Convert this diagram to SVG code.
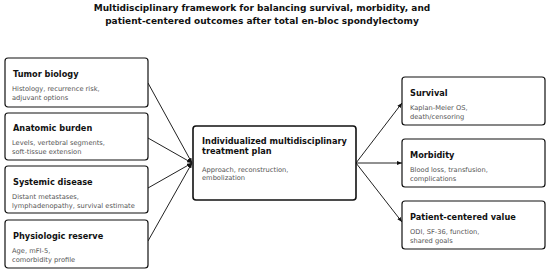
<svg xmlns="http://www.w3.org/2000/svg" width="550" height="273" viewBox="0 0 550 273">
<defs>
<marker id="ah" viewBox="0 0 10 10" refX="10" refY="5" markerWidth="5" markerHeight="5" orient="auto" markerUnits="userSpaceOnUse">
<path d="M0,1 L10,5 L0,9 z" fill="#111"/>
</marker>
<style>
.box{fill:#fff;stroke:#111;stroke-width:1.2}
.main{stroke-width:1.6}
.t{font-family:"DejaVu Sans",sans-serif;font-weight:bold;font-size:8.2px;fill:#111}
.s{font-family:"DejaVu Sans",sans-serif;font-size:6.7px;fill:#555}
.h{font-family:"DejaVu Sans",sans-serif;font-weight:bold;font-size:9px;fill:#111;text-anchor:middle}
.c{stroke:#222;stroke-width:1;fill:none;marker-end:url(#ah)}
</style>
</defs>
<rect width="550" height="273" fill="#fff"/>
<g id="title">
<text class="h" x="262" y="11">Multidisciplinary framework for balancing survival, morbidity, and</text>
<text class="h" x="262" y="24">patient-centered outcomes after total en-bloc spondylectomy</text>
</g>
<g id="connectors">
<line class="c" x1="148" y1="83" x2="192" y2="163"/>
<line class="c" x1="148" y1="138" x2="192" y2="163"/>
<line class="c" x1="148" y1="188" x2="192" y2="163"/>
<line class="c" x1="148" y1="241" x2="192" y2="163"/>
<line class="c" x1="356" y1="163" x2="402" y2="103"/>
<line class="c" x1="356" y1="163" x2="402" y2="163"/>
<line class="c" x1="356" y1="163" x2="402" y2="222"/>
</g>
<g id="tumor">
<rect class="box" x="5" y="58" width="143" height="49" rx="3"/>
<text class="t" x="13" y="77">Tumor biology</text>
<text class="s" x="12" y="91">Histology, recurrence risk,</text>
<text class="s" x="12" y="99.5">adjuvant options</text>
</g>
<g id="anatomic">
<rect class="box" x="5" y="113" width="143" height="47" rx="3"/>
<text class="t" x="13" y="131">Anatomic burden</text>
<text class="s" x="12" y="145">Levels, vertebral segments,</text>
<text class="s" x="12" y="153.5">soft-tissue extension</text>
</g>
<g id="systemic">
<rect class="box" x="5" y="166" width="143" height="47" rx="3"/>
<text class="t" x="13" y="185">Systemic disease</text>
<text class="s" x="12" y="199">Distant metastases,</text>
<text class="s" x="12" y="207.5">lymphadenopathy, survival estimate</text>
</g>
<g id="physiologic">
<rect class="box" x="5" y="220" width="143" height="48" rx="3"/>
<text class="t" x="13" y="239">Physiologic reserve</text>
<text class="s" x="12" y="253">Age, mFI-5,</text>
<text class="s" x="12" y="261.5">comorbidity profile</text>
</g>
<g id="plan">
<rect class="box main" x="193" y="126" width="163" height="74" rx="3"/>
<text class="t" x="202" y="144">Individualized multidisciplinary</text>
<text class="t" x="202" y="154">treatment plan</text>
<text class="s" x="202" y="172">Approach, reconstruction,</text>
<text class="s" x="202" y="180">embolization</text>
</g>
<g id="survival">
<rect class="box" x="402" y="77" width="143" height="48" rx="3"/>
<text class="t" x="410" y="96">Survival</text>
<text class="s" x="410" y="110">Kaplan-Meier OS,</text>
<text class="s" x="410" y="118.5">death/censoring</text>
</g>
<g id="morbidity">
<rect class="box" x="402" y="139" width="143" height="48" rx="3"/>
<text class="t" x="410" y="158">Morbidity</text>
<text class="s" x="410" y="172">Blood loss, transfusion,</text>
<text class="s" x="410" y="180.5">complications</text>
</g>
<g id="patient">
<rect class="box" x="402" y="201" width="143" height="48" rx="3"/>
<text class="t" x="410" y="220">Patient-centered value</text>
<text class="s" x="410" y="234">ODI, SF-36, function,</text>
<text class="s" x="410" y="242.5">shared goals</text>
</g>
</svg>
